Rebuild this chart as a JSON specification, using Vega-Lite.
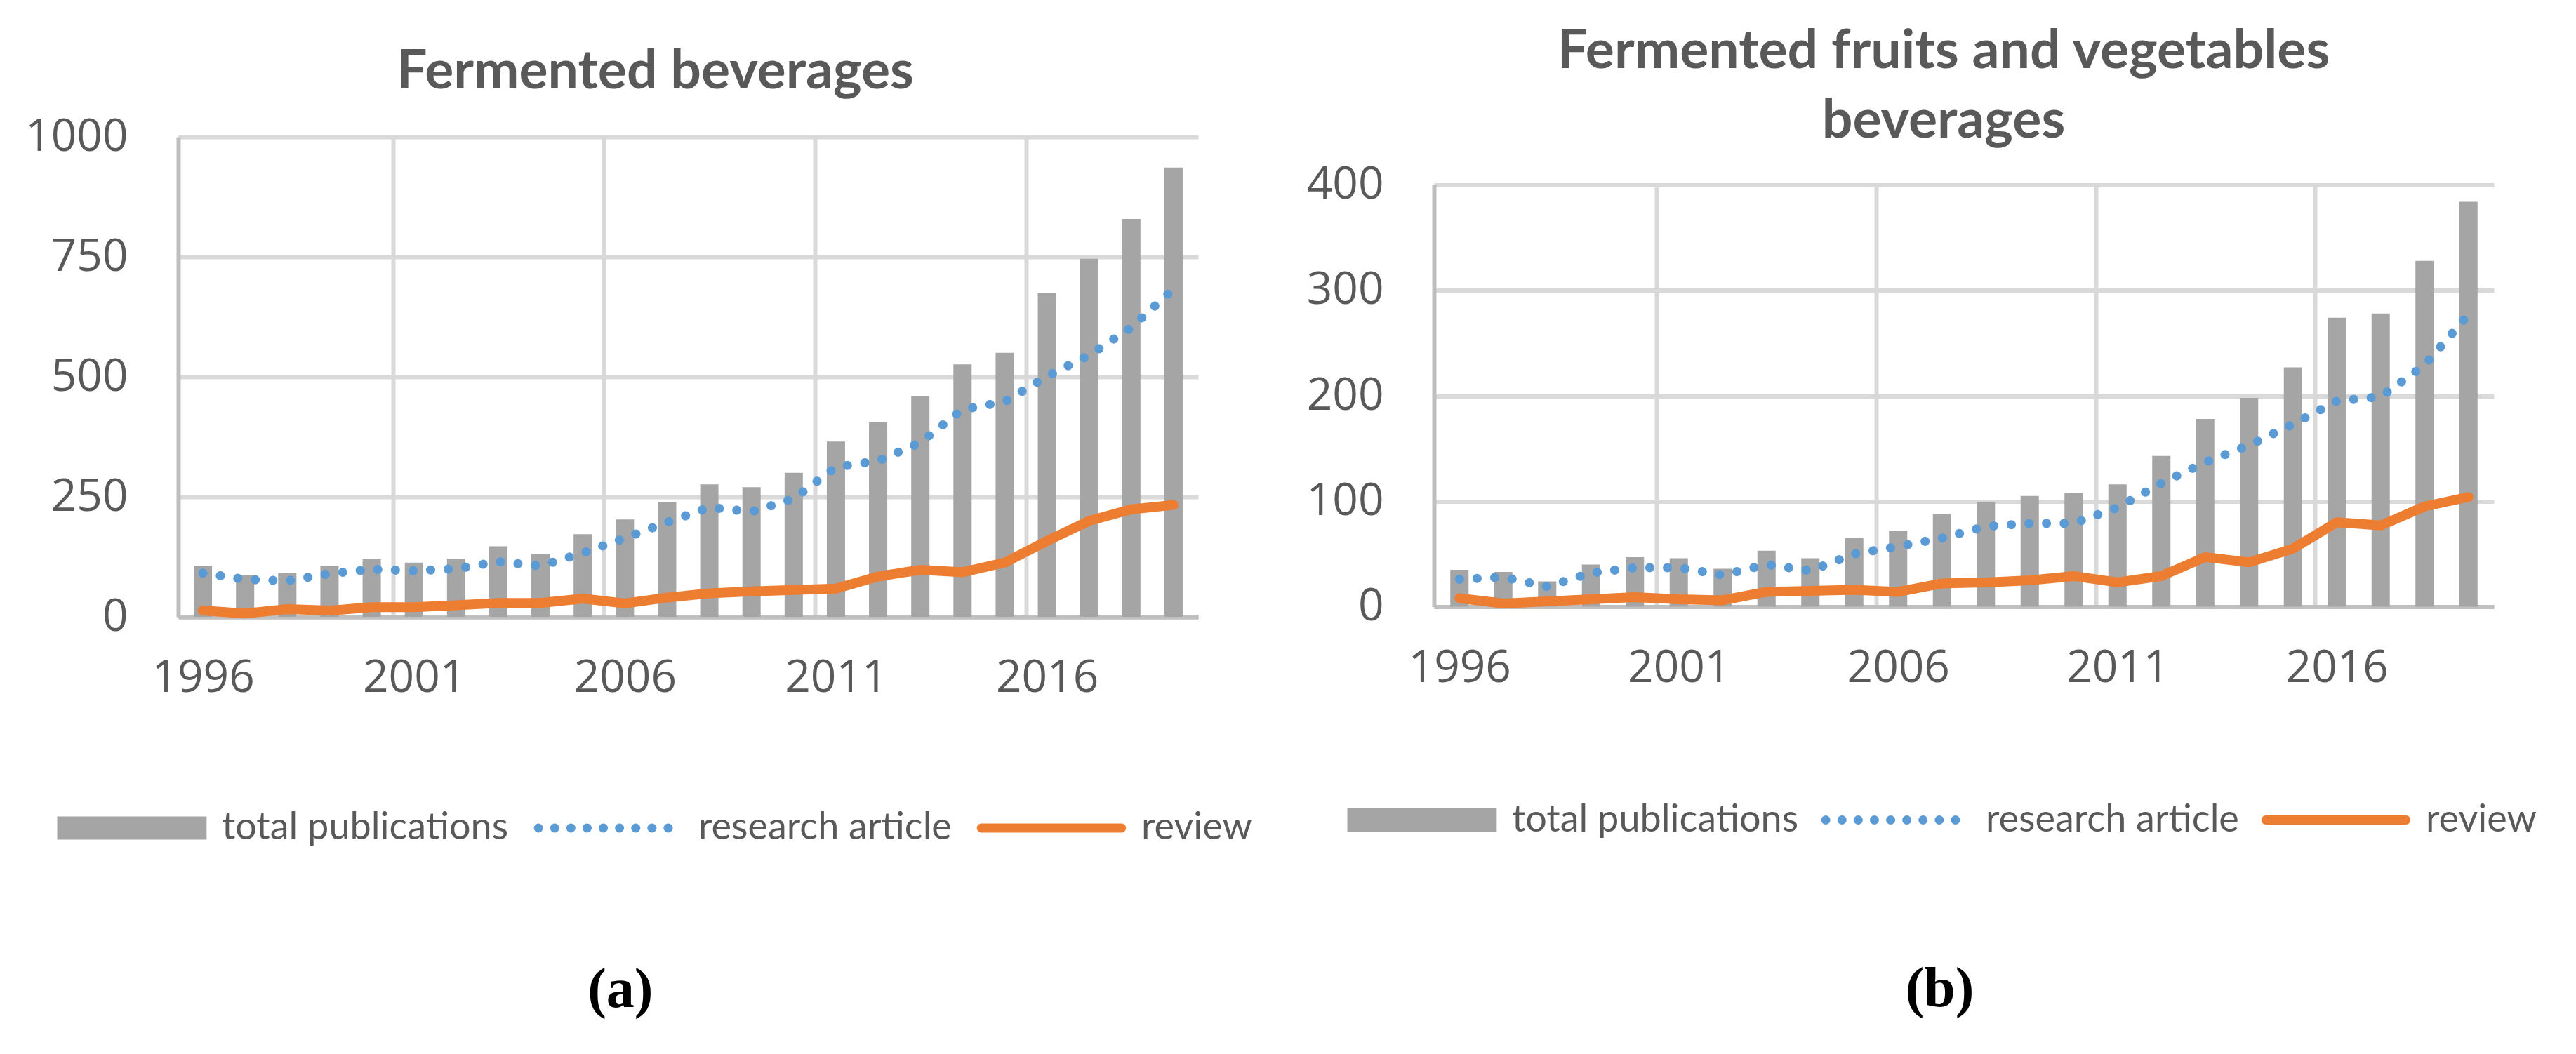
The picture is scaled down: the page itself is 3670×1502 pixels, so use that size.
{
  "$schema": "https://vega.github.io/schema/vega-lite/v6.json",
  "padding": {"left": 35, "top": 34, "right": 0, "bottom": 0},
  "background": "white",
  "config": {
    "font": "Lato",
    "view": {"stroke": null},
    "axis": {"labelFont": "Open Sans", "labelColor": "#595959", "labelFontSize": 64, "tickSize": 0, "ticks": false, "title": null}
  },
  "datasets": {
    "a": [
      {"year": 1996, "series": "total publications", "value": 106}, {"year": 1996, "series": "research article", "value": 91}, {"year": 1996, "series": "review", "value": 13},
      {"year": 1997, "series": "total publications", "value": 87}, {"year": 1997, "series": "research article", "value": 78}, {"year": 1997, "series": "review", "value": 7},
      {"year": 1998, "series": "total publications", "value": 91}, {"year": 1998, "series": "research article", "value": 75}, {"year": 1998, "series": "review", "value": 16},
      {"year": 1999, "series": "total publications", "value": 106}, {"year": 1999, "series": "research article", "value": 90}, {"year": 1999, "series": "review", "value": 13},
      {"year": 2000, "series": "total publications", "value": 120}, {"year": 2000, "series": "research article", "value": 99}, {"year": 2000, "series": "review", "value": 20},
      {"year": 2001, "series": "total publications", "value": 113}, {"year": 2001, "series": "research article", "value": 96}, {"year": 2001, "series": "review", "value": 20},
      {"year": 2002, "series": "total publications", "value": 121}, {"year": 2002, "series": "research article", "value": 100}, {"year": 2002, "series": "review", "value": 24},
      {"year": 2003, "series": "total publications", "value": 147}, {"year": 2003, "series": "research article", "value": 115}, {"year": 2003, "series": "review", "value": 29},
      {"year": 2004, "series": "total publications", "value": 131}, {"year": 2004, "series": "research article", "value": 106}, {"year": 2004, "series": "review", "value": 29},
      {"year": 2005, "series": "total publications", "value": 172}, {"year": 2005, "series": "research article", "value": 133}, {"year": 2005, "series": "review", "value": 38},
      {"year": 2006, "series": "total publications", "value": 203}, {"year": 2006, "series": "research article", "value": 164}, {"year": 2006, "series": "review", "value": 28},
      {"year": 2007, "series": "total publications", "value": 239}, {"year": 2007, "series": "research article", "value": 197}, {"year": 2007, "series": "review", "value": 40},
      {"year": 2008, "series": "total publications", "value": 276}, {"year": 2008, "series": "research article", "value": 228}, {"year": 2008, "series": "review", "value": 49},
      {"year": 2009, "series": "total publications", "value": 270}, {"year": 2009, "series": "research article", "value": 219}, {"year": 2009, "series": "review", "value": 53},
      {"year": 2010, "series": "total publications", "value": 300}, {"year": 2010, "series": "research article", "value": 246}, {"year": 2010, "series": "review", "value": 56},
      {"year": 2011, "series": "total publications", "value": 365}, {"year": 2011, "series": "research article", "value": 312}, {"year": 2011, "series": "review", "value": 59},
      {"year": 2012, "series": "total publications", "value": 406}, {"year": 2012, "series": "research article", "value": 325}, {"year": 2012, "series": "review", "value": 84},
      {"year": 2013, "series": "total publications", "value": 460}, {"year": 2013, "series": "research article", "value": 363}, {"year": 2013, "series": "review", "value": 98},
      {"year": 2014, "series": "total publications", "value": 526}, {"year": 2014, "series": "research article", "value": 432}, {"year": 2014, "series": "review", "value": 93},
      {"year": 2015, "series": "total publications", "value": 550}, {"year": 2015, "series": "research article", "value": 448}, {"year": 2015, "series": "review", "value": 113},
      {"year": 2016, "series": "total publications", "value": 674}, {"year": 2016, "series": "research article", "value": 501}, {"year": 2016, "series": "review", "value": 158},
      {"year": 2017, "series": "total publications", "value": 746}, {"year": 2017, "series": "research article", "value": 545}, {"year": 2017, "series": "review", "value": 200},
      {"year": 2018, "series": "total publications", "value": 829}, {"year": 2018, "series": "research article", "value": 603}, {"year": 2018, "series": "review", "value": 224},
      {"year": 2019, "series": "total publications", "value": 936}, {"year": 2019, "series": "research article", "value": 683}, {"year": 2019, "series": "review", "value": 233}
    ],
    "b": [
      {"year": 1996, "series": "total publications", "value": 35}, {"year": 1996, "series": "research article", "value": 26}, {"year": 1996, "series": "review", "value": 8},
      {"year": 1997, "series": "total publications", "value": 33}, {"year": 1997, "series": "research article", "value": 28}, {"year": 1997, "series": "review", "value": 3},
      {"year": 1998, "series": "total publications", "value": 24}, {"year": 1998, "series": "research article", "value": 19}, {"year": 1998, "series": "review", "value": 5},
      {"year": 1999, "series": "total publications", "value": 40}, {"year": 1999, "series": "research article", "value": 32}, {"year": 1999, "series": "review", "value": 7},
      {"year": 2000, "series": "total publications", "value": 47}, {"year": 2000, "series": "research article", "value": 37}, {"year": 2000, "series": "review", "value": 9},
      {"year": 2001, "series": "total publications", "value": 46}, {"year": 2001, "series": "research article", "value": 37}, {"year": 2001, "series": "review", "value": 7},
      {"year": 2002, "series": "total publications", "value": 36}, {"year": 2002, "series": "research article", "value": 30}, {"year": 2002, "series": "review", "value": 6},
      {"year": 2003, "series": "total publications", "value": 53}, {"year": 2003, "series": "research article", "value": 40}, {"year": 2003, "series": "review", "value": 14},
      {"year": 2004, "series": "total publications", "value": 46}, {"year": 2004, "series": "research article", "value": 34}, {"year": 2004, "series": "review", "value": 15},
      {"year": 2005, "series": "total publications", "value": 65}, {"year": 2005, "series": "research article", "value": 50}, {"year": 2005, "series": "review", "value": 16},
      {"year": 2006, "series": "total publications", "value": 72}, {"year": 2006, "series": "research article", "value": 57}, {"year": 2006, "series": "review", "value": 14},
      {"year": 2007, "series": "total publications", "value": 88}, {"year": 2007, "series": "research article", "value": 65}, {"year": 2007, "series": "review", "value": 22},
      {"year": 2008, "series": "total publications", "value": 99}, {"year": 2008, "series": "research article", "value": 76}, {"year": 2008, "series": "review", "value": 23},
      {"year": 2009, "series": "total publications", "value": 105}, {"year": 2009, "series": "research article", "value": 79}, {"year": 2009, "series": "review", "value": 25},
      {"year": 2010, "series": "total publications", "value": 108}, {"year": 2010, "series": "research article", "value": 79}, {"year": 2010, "series": "review", "value": 29},
      {"year": 2011, "series": "total publications", "value": 116}, {"year": 2011, "series": "research article", "value": 94}, {"year": 2011, "series": "review", "value": 23},
      {"year": 2012, "series": "total publications", "value": 143}, {"year": 2012, "series": "research article", "value": 117}, {"year": 2012, "series": "review", "value": 29},
      {"year": 2013, "series": "total publications", "value": 178}, {"year": 2013, "series": "research article", "value": 137}, {"year": 2013, "series": "review", "value": 47},
      {"year": 2014, "series": "total publications", "value": 198}, {"year": 2014, "series": "research article", "value": 153}, {"year": 2014, "series": "review", "value": 42},
      {"year": 2015, "series": "total publications", "value": 227}, {"year": 2015, "series": "research article", "value": 173}, {"year": 2015, "series": "review", "value": 55},
      {"year": 2016, "series": "total publications", "value": 274}, {"year": 2016, "series": "research article", "value": 195}, {"year": 2016, "series": "review", "value": 80},
      {"year": 2017, "series": "total publications", "value": 278}, {"year": 2017, "series": "research article", "value": 199}, {"year": 2017, "series": "review", "value": 77},
      {"year": 2018, "series": "total publications", "value": 328}, {"year": 2018, "series": "research article", "value": 229}, {"year": 2018, "series": "review", "value": 95},
      {"year": 2019, "series": "total publications", "value": 384}, {"year": 2019, "series": "research article", "value": 277}, {"year": 2019, "series": "review", "value": 104}
    ]
  },
  "hconcat": [
    {
      "title": {"text": "(a)", "orient": "bottom", "frame": "bounds", "anchor": "middle", "font": "Liberation Serif", "fontSize": 80, "fontWeight": "bold", "color": "#000000", "offset": 165, "dx": -26, "subtitle": " ", "subtitleFontSize": 52, "subtitlePadding": 15},
      "vconcat": [
        {
          "title": {"text": "Fermented beverages", "font": "Lato", "fontSize": 77, "fontWeight": "bold", "color": "#595959", "offset": 21, "dx": -47},
          "width": 1453,
          "height": 684,
          "data": {"name": "a"},
          "resolve": {"axis": {"x": "independent"}},
          "layer": [
            {
              "transform": [{"filter": "datum.series === 'total publications'"}],
              "mark": {"type": "bar", "width": 26, "color": "#a5a5a5"},
              "encoding": {
                "x": {"field": "year", "type": "quantitative", "scale": {"domain": [1995.5, 2019.5], "nice": false, "zero": false},
                      "axis": {"orient": "bottom", "values": [1996, 2001, 2006, 2011, 2016], "format": "d", "grid": false, "domain": true, "domainColor": "#bfbfbf", "domainWidth": 6, "labelPadding": 55, "labelFlush": false}},
                "y": {"field": "value", "type": "quantitative", "scale": {"domain": [0, 1000], "nice": false},
                      "axis": {"values": [0, 250, 500, 750, 1000], "format": "d", "grid": true, "gridColor": {"condition": {"test": "datum.value === 0", "value": "#bfbfbf"}, "value": "#d9d9d9"}, "gridWidth": 6, "domain": true, "domainColor": "#bfbfbf", "domainWidth": 6, "labelPadding": 72}},
                "color": {"field": "series", "type": "nominal",
                          "scale": {"domain": ["total publications", "research article", "review"], "range": ["#a5a5a5", "#5b9bd5", "#ed7d31"]},
                          "legend": {"orient": "none", "legendX": -183, "legendY": 958, "direction": "horizontal", "title": null, "padding": 0,
                                     "labelFont": "Lato", "labelFontSize": 54, "labelColor": "#595959", "labelLimit": 1000, "labelOffset": 191,
                                     "symbolSize": 1089, "columnPadding": 16,
                                     "encode": {"symbols": {"update": {
                                       "shape": {"signal": "datum.value === 'total publications' ? 'M-1,-1H11.9V1H-1Z' : 'M-0.6,0H11.5'"},
                                       "fill": {"signal": "datum.value === 'total publications' ? '#a5a5a5' : 'transparent'"},
                                       "stroke": {"signal": "datum.value === 'total publications' ? 'transparent' : (datum.value === 'research article' ? '#5b9bd5' : '#ed7d31')"},
                                       "strokeWidth": {"signal": "datum.value === 'total publications' ? 0 : 13"},
                                       "strokeDash": {"signal": "datum.value === 'research article' ? [0.1, 23] : [1, 0]"},
                                       "strokeCap": {"value": "round"},
                                       "opacity": {"value": 1}
                                     }}}}}
              }
            },
            {
              "transform": [{"filter": "datum.series === 'research article'"}],
              "mark": {"type": "line", "color": "#5b9bd5", "strokeWidth": 13, "strokeDash": [0.1, 25], "strokeCap": "round"},
              "encoding": {
                "x": {"field": "year", "type": "quantitative",
                      "axis": {"orient": "top", "values": [2000.5, 2005.5, 2010.5, 2015.5], "labels": false, "domain": false, "grid": true, "gridColor": "#d9d9d9", "gridWidth": 6}},
                "y": {"field": "value", "type": "quantitative"}
              }
            },
            {
              "transform": [{"filter": "datum.series === 'review'"}],
              "mark": {"type": "line", "color": "#ed7d31", "strokeWidth": 14, "strokeCap": "round", "strokeJoin": "round"},
              "encoding": {
                "x": {"field": "year", "type": "quantitative", "axis": null},
                "y": {"field": "value", "type": "quantitative"}
              }
            }
          ]
        }
      ]
    },
    {
      "title": {"text": "(b)", "orient": "bottom", "frame": "bounds", "anchor": "middle", "font": "Liberation Serif", "fontSize": 80, "fontWeight": "bold", "color": "#000000", "offset": 175, "dx": 26},
      "vconcat": [
        {
          "title": {"text": ["Fermented fruits and vegetables", "beverages"], "lineHeight": 99, "font": "Lato", "fontSize": 77, "fontWeight": "bold", "color": "#595959", "offset": 20, "dx": -29},
          "width": 1510,
          "height": 601,
          "data": {"name": "b"},
          "resolve": {"axis": {"x": "independent"}},
          "layer": [
            {
              "transform": [{"filter": "datum.series === 'total publications'"}],
              "mark": {"type": "bar", "width": 26, "color": "#a5a5a5"},
              "encoding": {
                "x": {"field": "year", "type": "quantitative", "scale": {"domain": [1995.5, 2019.5], "nice": false, "zero": false},
                      "axis": {"orient": "bottom", "values": [1996, 2001, 2006, 2011, 2016], "format": "d", "grid": false, "domain": true, "domainColor": "#bfbfbf", "domainWidth": 6, "labelPadding": 56, "labelFlush": false}},
                "y": {"field": "value", "type": "quantitative", "scale": {"domain": [0, 400], "nice": false},
                      "axis": {"values": [0, 100, 200, 300, 400], "format": "d", "grid": true, "gridColor": {"condition": {"test": "datum.value === 0", "value": "#bfbfbf"}, "value": "#d9d9d9"}, "gridWidth": 6, "domain": true, "domainColor": "#bfbfbf", "domainWidth": 6, "labelPadding": 72}},
                "color": {"field": "series", "type": "nominal",
                          "scale": {"domain": ["total publications", "research article", "review"], "range": ["#a5a5a5", "#5b9bd5", "#ed7d31"]},
                          "legend": {"orient": "none", "legendX": -134, "legendY": 878, "direction": "horizontal", "title": null, "padding": 0,
                                     "labelFont": "Lato", "labelFontSize": 54, "labelColor": "#595959", "labelLimit": 1000, "labelOffset": 191,
                                     "symbolSize": 1089, "columnPadding": 12,
                                     "encode": {"symbols": {"update": {
                                       "shape": {"signal": "datum.value === 'total publications' ? 'M-1,-1H11.9V1H-1Z' : 'M-0.6,0H11.5'"},
                                       "fill": {"signal": "datum.value === 'total publications' ? '#a5a5a5' : 'transparent'"},
                                       "stroke": {"signal": "datum.value === 'total publications' ? 'transparent' : (datum.value === 'research article' ? '#5b9bd5' : '#ed7d31')"},
                                       "strokeWidth": {"signal": "datum.value === 'total publications' ? 0 : 13"},
                                       "strokeDash": {"signal": "datum.value === 'research article' ? [0.1, 23] : [1, 0]"},
                                       "strokeCap": {"value": "round"},
                                       "opacity": {"value": 1}
                                     }}}}}
              }
            },
            {
              "transform": [{"filter": "datum.series === 'research article'"}],
              "mark": {"type": "line", "color": "#5b9bd5", "strokeWidth": 13, "strokeDash": [0.1, 25], "strokeCap": "round"},
              "encoding": {
                "x": {"field": "year", "type": "quantitative",
                      "axis": {"orient": "top", "values": [2000.5, 2005.5, 2010.5, 2015.5], "labels": false, "domain": false, "grid": true, "gridColor": "#d9d9d9", "gridWidth": 6}},
                "y": {"field": "value", "type": "quantitative"}
              }
            },
            {
              "transform": [{"filter": "datum.series === 'review'"}],
              "mark": {"type": "line", "color": "#ed7d31", "strokeWidth": 14, "strokeCap": "round", "strokeJoin": "round"},
              "encoding": {
                "x": {"field": "year", "type": "quantitative", "axis": null},
                "y": {"field": "value", "type": "quantitative"}
              }
            }
          ]
        }
      ]
    }
  ],
  "spacing": 77,
  "center": true,
  "resolve": {"scale": {"color": "independent", "x": "independent", "y": "independent"}, "legend": {"color": "independent"}}
}
